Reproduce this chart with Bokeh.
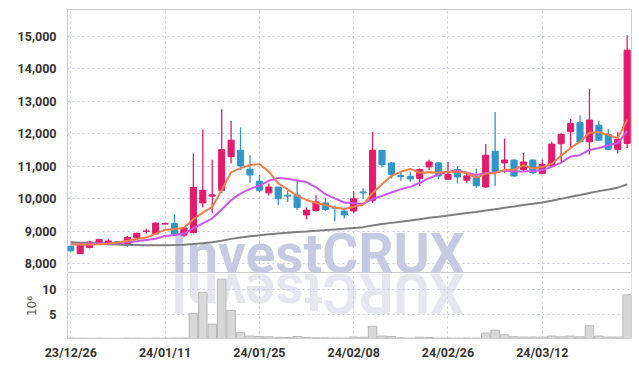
import numpy as np
from bokeh.plotting import figure
from bokeh.models import Range1d, FixedTicker, NumeralTickFormatter, ColumnDataSource, Span
from bokeh.layouts import column
from bokeh.embed import file_html
from bokeh.resources import INLINE
from bokeh.core.properties import value

# ---------------- data ----------------
dates = ["23/12/26", "23/12/27", "23/12/28",
         "24/01/02", "24/01/03", "24/01/04", "24/01/05", "24/01/08", "24/01/09", "24/01/10",
         "24/01/11", "24/01/12", "24/01/15", "24/01/16", "24/01/17", "24/01/18", "24/01/19",
         "24/01/22", "24/01/23", "24/01/24", "24/01/25", "24/01/26", "24/01/29", "24/01/30",
         "24/01/31", "24/02/01", "24/02/02", "24/02/05", "24/02/06", "24/02/07", "24/02/08",
         "24/02/13", "24/02/14", "24/02/15", "24/02/16", "24/02/19", "24/02/20", "24/02/21",
         "24/02/22", "24/02/23", "24/02/26", "24/02/27", "24/02/28", "24/02/29", "24/03/04",
         "24/03/05", "24/03/06", "24/03/07", "24/03/08", "24/03/11", "24/03/12", "24/03/13",
         "24/03/14", "24/03/15", "24/03/18", "24/03/19", "24/03/20", "24/03/21", "24/03/22",
         "24/03/25"]

opens = [8540, 8310, 8500, 8600, 8620, 8680, 8620, 8800, 8990, 8920,
         9220, 9240, 8880, 8960, 9870, 10080, 10260, 11290, 11490, 10910,
         10540, 10180, 10360, 10110, 10110, 9500, 9640, 9870, 9730, 9620,
         9620, 10210, 9950, 11490, 11100, 10710, 10690, 10620, 10980, 11100,
         10600, 10900, 10570, 10650, 10360, 11460, 11100, 11190, 10900, 11190,
         10780, 11010, 11690, 12060, 12340, 11750, 12260, 11980, 11520, 11700]
highs = [8550, 8570, 8700, 8760, 8750, 8700, 8850, 8960, 9080, 9270,
         9260, 9520, 9130, 11390, 12130, 11200, 12750, 12390, 12190, 11340,
         10740, 10470, 10360, 10260, 10550, 9730, 10110, 10020, 9790, 9730,
         10230, 10320, 12060, 11490, 11130, 10830, 10830, 10930, 11200, 11130,
         11130, 11000, 10830, 10930, 11680, 12670, 11850, 11210, 11410, 11210,
         11210, 11750, 12010, 12450, 12570, 13370, 12390, 12140, 12060, 15030]
lows = [8370, 8300, 8470, 8590, 8570, 8580, 8520, 8780, 8930, 8900,
        9200, 8850, 8820, 8930, 9730, 9550, 10180, 11080, 10880, 10490,
        10210, 10100, 9800, 9900, 9650, 9370, 9610, 9620, 9310, 9390,
        9550, 10000, 9870, 10960, 10620, 10550, 10520, 10390, 10880, 10600,
        10570, 10470, 10490, 10340, 10340, 10400, 10800, 10670, 10830, 10750,
        10760, 10980, 11130, 11520, 11750, 11360, 11800, 11520, 11390, 11560]
closes = [8400, 8560, 8670, 8750, 8700, 8590, 8810, 8930, 9010, 9250,
          9240, 8910, 9100, 10350, 10260, 10120, 11510, 11800, 11010, 10730,
          10260, 10360, 10000, 10080, 9730, 9650, 9900, 9670, 9710, 9500,
          10000, 10180, 11490, 11050, 10750, 10680, 10610, 10900, 11130, 10700,
          10750, 10670, 10700, 10400, 11340, 10830, 11190, 10700, 11130, 10800,
          11050, 11680, 11980, 12310, 11750, 12420, 11800, 11520, 11830, 14570]

ma_short = [8600, 8590, 8590, 8600, 8617, 8655, 8706, 8758, 8809, 8918,
            9048, 9067, 9101, 9368, 9571, 9747, 10268, 10808, 10941, 11035,
            11064, 10834, 10473, 10287, 10086, 9963, 9870, 9805, 9731, 9685,
            9756, 9812, 10177, 10446, 10697, 10832, 10918, 10799, 10815, 10805,
            10819, 10832, 10792, 10645, 10772, 10786, 10889, 10889, 11036, 10928,
            10973, 11071, 11326, 11562, 11753, 12026, 12050, 11960, 11863, 12428]
ma_mid = [8600, 8600, 8610, 8620, 8630, 8640, 8660, 8690, 8730, 8768,
          8852, 8887, 8930, 9089, 9245, 9398, 9668, 9955, 10155, 10303,
          10406, 10551, 10641, 10614, 10561, 10513, 10352, 10139, 10009, 9885,
          9860, 9841, 9991, 10088, 10191, 10294, 10365, 10488, 10631, 10751,
          10826, 10875, 10796, 10730, 10788, 10803, 10860, 10840, 10840, 10850,
          10880, 10980, 11108, 11299, 11340, 11499, 11561, 11643, 11713, 12090]
ma_long = [8660, 8645, 8630, 8615, 8600, 8590, 8580, 8575, 8570, 8570,
           8570, 8575, 8585, 8604, 8633, 8660, 8710, 8765, 8807, 8844,
           8873, 8904, 8929, 8955, 8975, 8994, 9017, 9036, 9056, 9073,
           9098, 9126, 9176, 9219, 9257, 9293, 9328, 9368, 9412, 9449,
           9487, 9523, 9560, 9592, 9639, 9678, 9723, 9760, 9804, 9842,
           9885, 9938, 9996, 10060, 10114, 10179, 10234, 10284, 10340, 10441]

volumes = [0.08, 0.06, 0.05, 0.06, 0.05, 0.04, 0.07, 0.06, 0.05, 0.08,
           0.06, 0.10, 0.12, 5.2, 9.5, 2.95, 12.2, 5.8, 1.2, 0.5,
           0.4, 0.35, 0.25, 0.2, 0.4, 0.2, 0.15, 0.15, 0.12, 0.1,
           0.3, 0.25, 2.5, 0.5, 0.4, 0.15, 0.1, 0.25, 0.2, 0.1,
           0.1, 0.08, 0.1, 0.1, 1.1, 1.7, 0.75, 0.35, 0.3, 0.3,
           0.3, 0.5, 0.35, 0.5, 0.35, 2.6, 0.5, 0.3, 0.3, 9.0]

price_ticks = [8000, 9000, 10000, 11000, 12000, 13000, 14000, 15000]
volume_ticks = [5, 10]
label_every = 10

# ---------------- styling ----------------
RED = "#e31b6d"
BLUE = "#2f96c9"
GRID = "#c5cadc"
BORDER = "#cccccc"
LABEL_FONT = "Roboto"
LABEL_COLOR = "#333333"

xs = list(range(len(dates)))
date_ticks = xs[::label_every]
date_labels = {i: dates[i] for i in date_ticks}

up = [c >= o for o, c in zip(opens, closes)]
src = ColumnDataSource(dict(
    x=xs, o=opens, h=highs, l=lows, c=closes,
    top=[max(o, c) for o, c in zip(opens, closes)],
    bottom=[min(o, c) for o, c in zip(opens, closes)],
    color=[RED if u else BLUE for u in up],
    v=volumes,
))

x_range = Range1d(-0.35, len(dates) - 0.54)

# ---------------- price panel ----------------
p1 = figure(width=639, height=273, x_range=x_range, y_range=Range1d(7700, 15820),
            output_backend="svg", toolbar_location=None,
            min_border_left=67, min_border_right=8, min_border_top=9, min_border_bottom=0)
p1.background_fill_color = "white"
p1.border_fill_color = "white"
p1.outline_line_color = BORDER
p1.xaxis.visible = False

p1.yaxis.ticker = FixedTicker(ticks=price_ticks)
p1.yaxis.formatter = NumeralTickFormatter(format="0,0")
p1.yaxis.axis_line_color = None
p1.yaxis.major_tick_line_color = None
p1.yaxis.minor_tick_line_color = None
p1.yaxis.major_label_standoff = 5
p1.yaxis.major_label_text_font = LABEL_FONT
p1.yaxis.major_label_text_font_style = "bold"
p1.yaxis.major_label_text_font_size = "12.5px"
p1.yaxis.major_label_text_color = LABEL_COLOR

p1.xgrid.ticker = FixedTicker(ticks=date_ticks)
p1.ygrid.ticker = FixedTicker(ticks=price_ticks)
for g in (p1.xgrid, p1.ygrid):
    g.grid_line_color = GRID
    g.grid_line_dash = "2 3"
    g.grid_line_width = 1

# watermark
p1.text(x=[26.2], y=[8315], text=["InvestCRUX"], text_font=value("Roboto"),
        text_font_style="bold", text_font_size="55px", text_color="#c6cbe3",
        text_align="center", text_baseline="alphabetic", level="image")

p1.segment(x0="x", y0="h", x1="x", y1="l", line_color="color", line_width=1.3, source=src)
p1.vbar(x="x", width=0.65, top="top", bottom="bottom", fill_color="color",
        line_color="color", line_width=1, source=src)

p1.line(xs, ma_long, line_color="#7f7f7f", line_width=2)
p1.line(xs, ma_mid, line_color="#cc55ee", line_width=2)
p1.line(xs, ma_short, line_color="#f08048", line_width=2)

# ---------------- volume panel ----------------
p2 = figure(width=639, height=93, x_range=x_range, y_range=Range1d(0, 13.37),
            output_backend="svg", toolbar_location=None,
            min_border_left=67, min_border_right=8, min_border_top=0, min_border_bottom=28)
p2.background_fill_color = "white"
p2.border_fill_color = "white"
p2.outline_line_color = None

p2.text(x=[26.2], y=[9.3], text=["XURCtsevnI"], angle=np.pi, text_font=value("Roboto"),
        text_font_style="bold", text_font_size="55px", text_color="#e6e6ef",
        text_align="center", text_baseline="alphabetic", level="image")

p2.vbar(x="x", width=0.9, top="v", bottom=0, fill_color="#d8d8d8",
        line_color="#b8b8b8", line_width=1, source=src)

p2.yaxis.ticker = FixedTicker(ticks=volume_ticks)
p2.yaxis.axis_line_color = BORDER
p2.yaxis.major_tick_line_color = None
p2.yaxis.minor_tick_line_color = None
p2.yaxis.major_label_standoff = 5
p2.yaxis.major_label_text_font = LABEL_FONT
p2.yaxis.major_label_text_font_style = "bold"
p2.yaxis.major_label_text_font_size = "12.5px"
p2.yaxis.major_label_text_color = LABEL_COLOR
p2.yaxis.axis_label = "10\u2076"
p2.yaxis.axis_label_text_font = "DejaVu Sans"
p2.yaxis.axis_label_text_font_style = "normal"
p2.yaxis.axis_label_text_font_size = "12px"
p2.yaxis.axis_label_text_color = "#555555"
p2.yaxis.axis_label_standoff = 0

p2.xaxis.ticker = FixedTicker(ticks=date_ticks)
p2.xaxis.major_label_overrides = date_labels
p2.xaxis.axis_line_color = BORDER
p2.xaxis.major_tick_line_color = None
p2.xaxis.minor_tick_line_color = None
p2.xaxis.major_label_standoff = 0
p2.xaxis.major_label_text_font = LABEL_FONT
p2.xaxis.major_label_text_font_style = "bold"
p2.xaxis.major_label_text_font_size = "12.5px"
p2.xaxis.major_label_text_color = LABEL_COLOR

p2.add_layout(Span(location=x_range.end, dimension="height", line_color=BORDER, line_width=1))

p2.xgrid.ticker = FixedTicker(ticks=date_ticks)
p2.ygrid.ticker = FixedTicker(ticks=volume_ticks)
for g in (p2.xgrid, p2.ygrid):
    g.grid_line_color = GRID
    g.grid_line_dash = "2 3"
    g.grid_line_width = 1

layout = column(p1, p2, spacing=0)
open("out.html", "w").write(file_html(layout, INLINE))
